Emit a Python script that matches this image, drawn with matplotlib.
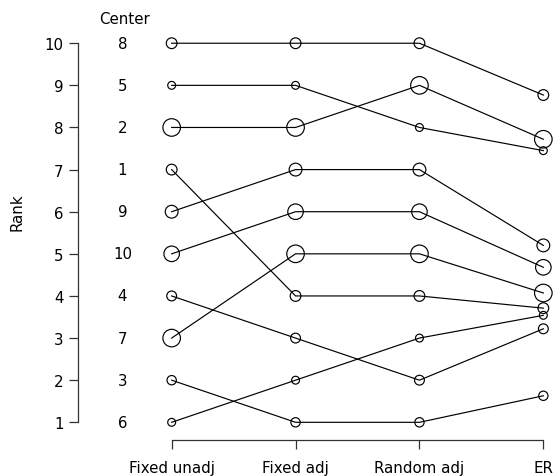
import matplotlib.pyplot as plt

methods = ['Fixed unadj', 'Fixed adj', 'Random adj', 'ER']
centers = [8, 5, 2, 1, 9, 10, 4, 7, 3, 6]
fixed_unadj = [10, 9, 8, 7, 6, 5, 4, 3, 2, 1]
fixed_adj = [10, 9, 8, 4, 7, 6, 3, 5, 1, 2]
random_adj = [10, 8, 9, 4, 7, 6, 2, 5, 1, 3]
er = [8.77, 7.45, 7.72, 3.71, 5.2, 4.68, 3.22, 4.07, 1.63, 3.54]
# relative center weight (marker area)
weight = [120, 64, 320, 120, 170, 250, 100, 320, 90, 64]

plt.rcParams['font.family'] = 'DejaVu Sans'
fig = plt.figure(figsize=(5.53, 4.77), dpi=100)
ax = fig.add_axes([78/553, 36/477, 475/553, 441/477])

xs = range(len(methods))
for i in range(len(centers)):
    ys = [fixed_unadj[i], fixed_adj[i], random_adj[i], er[i]]
    ax.plot(xs, ys, color='black', lw=0.85, zorder=2, clip_on=False)
    ax.scatter(xs, ys, s=weight[i]*0.5, facecolors='none', edgecolors='black',
               linewidths=0.85, zorder=3, clip_on=False)
    ax.text(-0.397, fixed_unadj[i], str(centers[i]), ha='center', va='center', fontsize=10.8)

ax.text(-0.377, 10.58, 'Center', ha='center', va='center', fontsize=10.8)

ax.set_xlim(-0.756, 3.078)
ax.set_ylim(0.58, 11.05)
ax.set_xticks(list(xs))
ax.set_xticklabels(methods, fontsize=10.8)
ax.set_yticks(range(1, 11))
ax.tick_params(axis='both', length=6.5, width=0.9, labelsize=10.8, color='#333333')
ax.tick_params(axis='y', pad=4)
ax.tick_params(axis='x', pad=8)
for s in ['top', 'right']:
    ax.spines[s].set_visible(False)
ax.spines['left'].set_bounds(1, 10)
ax.spines['bottom'].set_bounds(0, 3)
ax.spines['left'].set_linewidth(0.9)
ax.spines['bottom'].set_linewidth(0.9)
ax.spines['left'].set_color('#333333')
ax.spines['bottom'].set_color('#333333')

fig.text(17/553, 1 - 212/477, 'Rank', rotation=90, ha='center', va='center', fontsize=10.8)

fig.savefig('out.png', dpi=100)
